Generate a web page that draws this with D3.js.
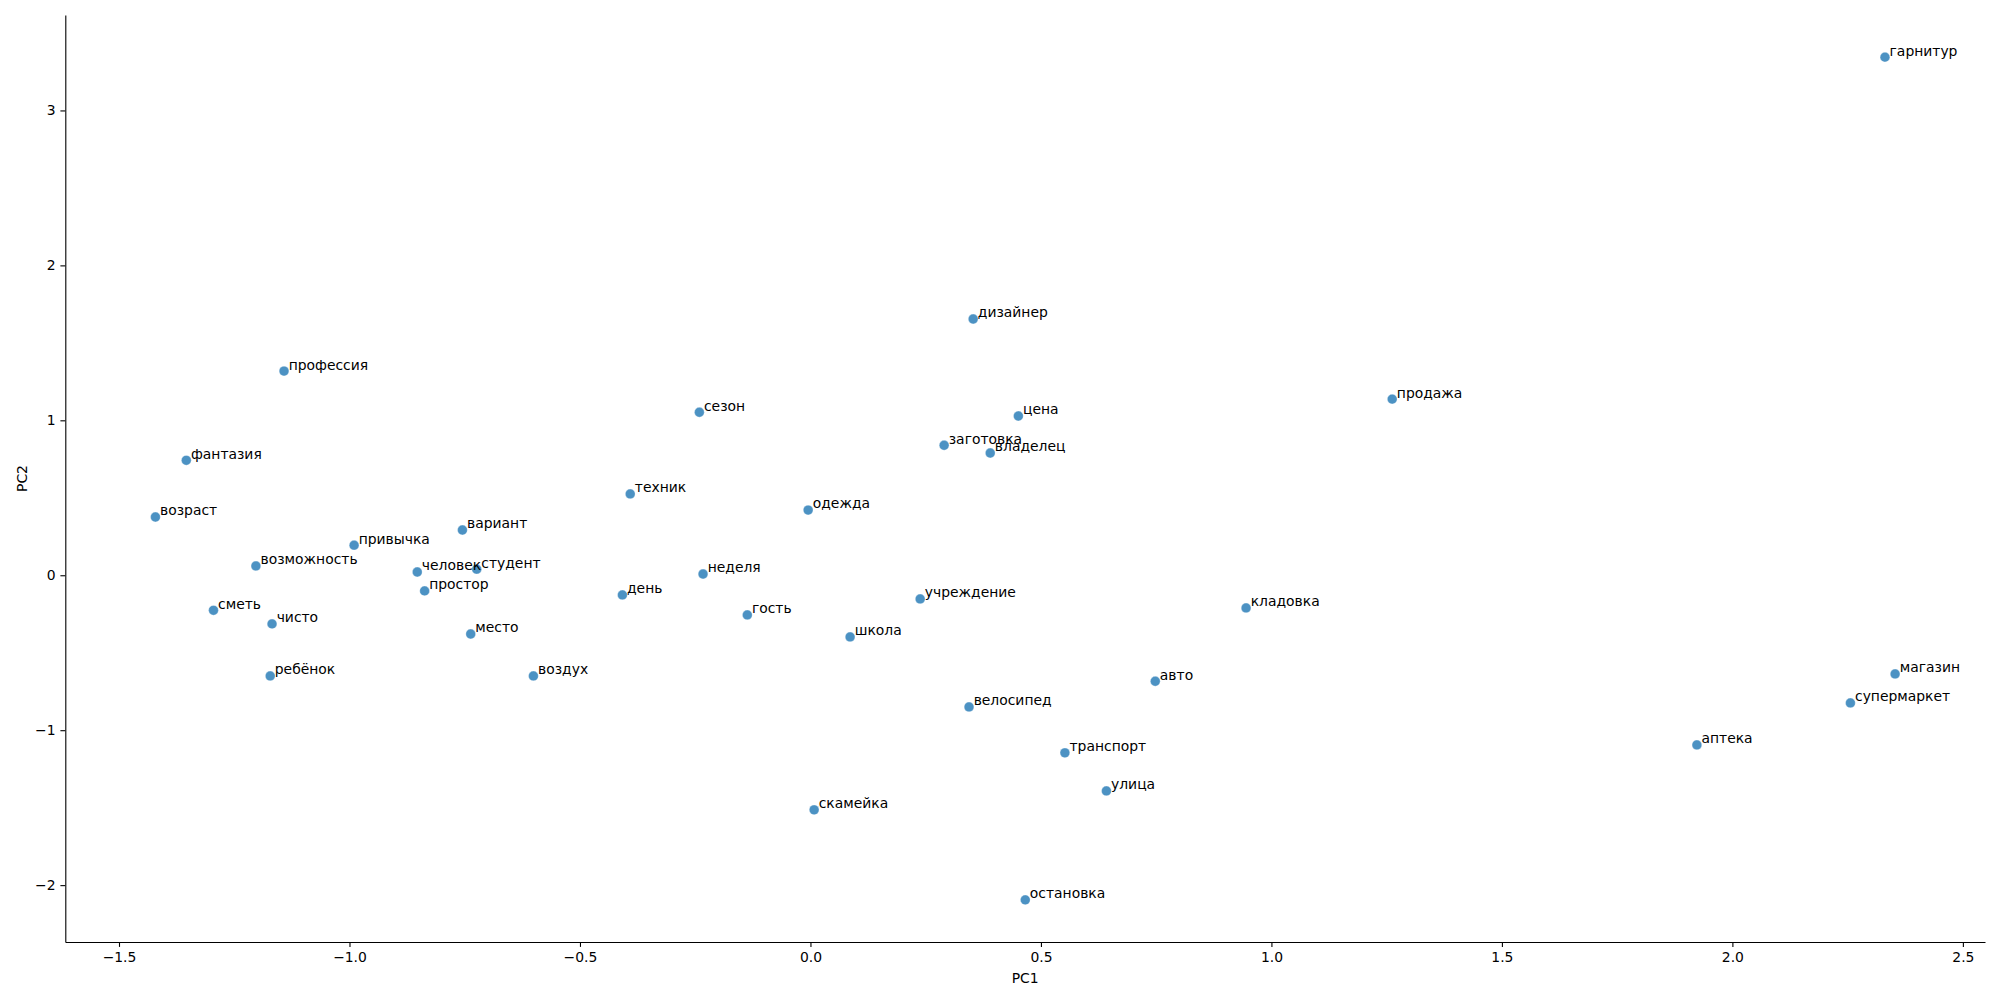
<!DOCTYPE html>
<html>
<head>
<meta charset="utf-8">
<script src="https://cdn.jsdelivr.net/npm/d3@7"></script>
<style>
  body { margin: 0; background: #fff; }
  text { font-family: "DejaVu Sans", sans-serif; }
</style>
</head>
<body>
<div id="scatter"></div>
<script>
// Words and their PCA coordinates
let words = ['гарнитур', 'дизайнер', 'профессия', 'сезон', 'цена', 'продажа', 'заготовка', 'владелец',
    'фантазия', 'техник', 'одежда', 'возраст', 'вариант', 'привычка', 'возможность', 'человек',
    'студент', 'неделя', 'простор', 'день', 'учреждение', 'кладовка', 'сметь', 'гость', 'чисто',
    'место', 'школа', 'ребёнок', 'воздух', 'авто', 'магазин', 'супермаркет', 'велосипед', 'аптека',
    'транспорт', 'улица', 'скамейка', 'остановка'];
let pc1 = [2.331, 0.353, -1.142, -0.241, 0.451, 1.262, 0.290, 0.390,
    -1.354, -0.391, -0.005, -1.421, -0.755, -0.990, -1.203, -0.853,
    -0.724, -0.233, -0.837, -0.408, 0.238, 0.945, -1.295, -0.137, -1.168,
    -0.737, 0.086, -1.172, -0.601, 0.748, 2.353, 2.256, 0.344, 1.923,
    0.552, 0.642, 0.008, 0.466];
let pc2 = [3.344, 1.654, 1.318, 1.052, 1.028, 1.137, 0.839, 0.789,
    0.742, 0.525, 0.421, 0.376, 0.292, 0.194, 0.060, 0.021,
    0.039, 0.008, -0.101, -0.127, -0.153, -0.211, -0.226, -0.256, -0.314,
    -0.379, -0.398, -0.650, -0.650, -0.684, -0.637, -0.824, -0.850, -1.095,
    -1.146, -1.392, -1.514, -2.095];
let xTicks = [-1.5, -1.0, -0.5, 0.0, 0.5, 1.0, 1.5, 2.0, 2.5];
let yTicks = [-2, -1, 0, 1, 2, 3];
let xLimits = [-1.6165, 2.548];
let yLimits = [-2.367, 3.616];

let svgWidth = 2000;
let svgHeight = 1000;
let margins = { top: 15, bottom: 58, left: 65.3, right: 15 };
let chartWidth = svgWidth - margins.left - margins.right;
let chartHeight = svgHeight - margins.top - margins.bottom;

let svg = d3.select('#scatter').append('svg')
    .attr('width', svgWidth)
    .attr('height', svgHeight);
let chart = svg.append('g')
    .attr('transform', `translate(${margins.left}, ${margins.top})`);

let data = words.map((w, i) => ({ word: w, x: pc1[i], y: pc2[i] }));

let xScale = d3.scaleLinear().domain(xLimits).range([0, chartWidth]);
let yScale = d3.scaleLinear().domain(yLimits).range([chartHeight, 0]);

let minus = s => s.replace('-', '\u2212');

let xAxis = d3.axisBottom(xScale).tickValues(xTicks)
    .tickFormat(d => minus(d3.format('.1f')(d)))
    .tickSizeInner(4.9).tickSizeOuter(0).tickPadding(4.9);
let yAxis = d3.axisLeft(yScale).tickValues(yTicks)
    .tickFormat(d => minus(d3.format('d')(d)))
    .tickSizeInner(4.9).tickSizeOuter(0).tickPadding(4.9);

let gx = chart.append('g').attr('transform', `translate(0, ${chartHeight})`).call(xAxis);
let gy = chart.append('g').call(yAxis);
[gx, gy].forEach(g => {
    g.select('.domain').attr('stroke', '#000').attr('stroke-width', 1.1);
    g.selectAll('.tick line').attr('stroke', '#000').attr('stroke-width', 1.1);
    g.selectAll('.tick text')
        .style('font-family', '"DejaVu Sans", sans-serif')
        .style('font-size', '13.9px')
        .attr('fill', '#000');
});

// Points
chart.selectAll('circle.pt')
    .data(data).enter()
    .append('circle')
    .attr('class', 'pt')
    .attr('cx', d => xScale(d.x))
    .attr('cy', d => yScale(d.y))
    .attr('r', 4.9)
    .attr('fill', '#1f77b4')
    .attr('fill-opacity', 0.8)
    .attr('stroke', '#ffffff')
    .attr('stroke-opacity', 0.6)
    .attr('stroke-width', 0.5);

// Word labels, offset by 0.01 in data units
chart.selectAll('text.word')
    .data(data).enter()
    .append('text')
    .attr('class', 'word')
    .attr('x', d => xScale(d.x + 0.01))
    .attr('y', d => yScale(d.y + 0.01))
    .style('font-size', '13.9px')
    .attr('fill', '#000')
    .text(d => d.word);

// Axis labels
chart.append('text')
    .attr('x', chartWidth / 2)
    .attr('y', chartHeight + 41)
    .attr('text-anchor', 'middle')
    .style('font-size', '13.9px')
    .text('PC1');
chart.append('text')
    .attr('transform', `translate(${21.7 - margins.left + 5}, ${chartHeight / 2}) rotate(-90)`)
    .attr('text-anchor', 'middle')
    .style('font-size', '13.9px')
    .text('PC2');
</script>
</body>
</html>
